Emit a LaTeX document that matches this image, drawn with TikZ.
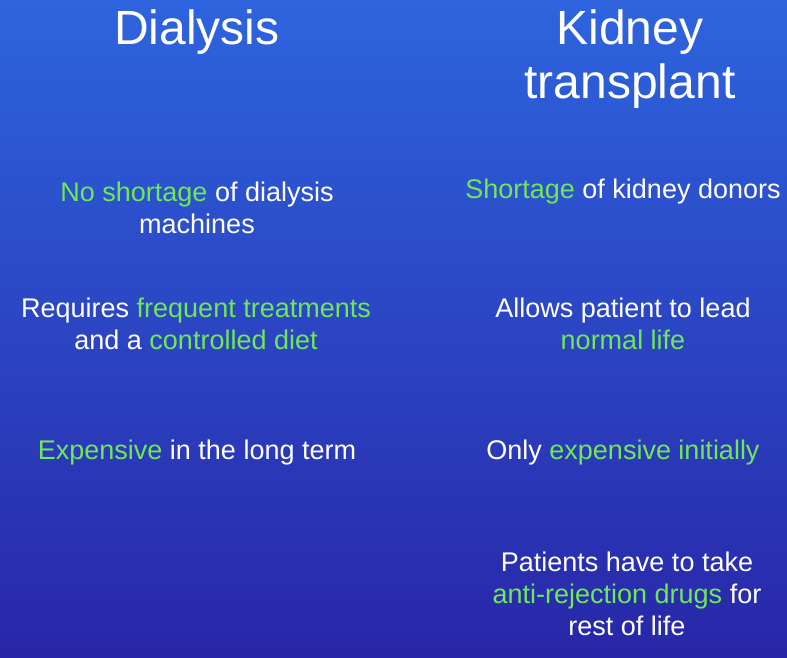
\documentclass[tikz,border=0pt]{standalone}
\usepackage{fontspec}
\setmainfont{Liberation Sans}
\definecolor{bgtop}{RGB}{46,100,222}
\definecolor{bgbot}{RGB}{40,38,168}
\definecolor{hl}{RGB}{110,232,86}
\newcommand{\g}[1]{\textcolor{hl}{#1}}
\begin{document}
\begin{tikzpicture}[x=1pt,y=-1pt,
  title/.style={text=white,font=\fontsize{48}{54}\selectfont,align=center,inner sep=0},
  body/.style={text=white,font=\fontsize{27}{32}\selectfont,align=center,inner sep=0}]
\shade[top color=bgtop,bottom color=bgbot] (0,0) rectangle (787,658);
\useasboundingbox (0,0) rectangle (787,658);
\node[title] (t1) at (197,32) {Dialysis};
\node[title] (t2) at (630,59) {Kidney\\transplant};
\node[body] (a1) at (197,208) {\g{No shortage} of dialysis\\machines};
\node[body] (b1) at (623,192) {\g{Shortage} of kidney donors};
\node[body] (a2) at (196,324) {Requires \g{frequent treatments}\\and a \g{controlled diet}};
\node[body] (b2) at (623,324) {Allows patient to lead\\\g{normal life}};
\node[body] (a3) at (197,453) {\g{Expensive} in the long term};
\node[body] (b3) at (623,453) {Only \g{expensive initially}};
\node[body] (b4) at (627,594) {Patients have to take\\\g{anti-rejection drugs} for\\rest of life};
\end{tikzpicture}
\end{document}
